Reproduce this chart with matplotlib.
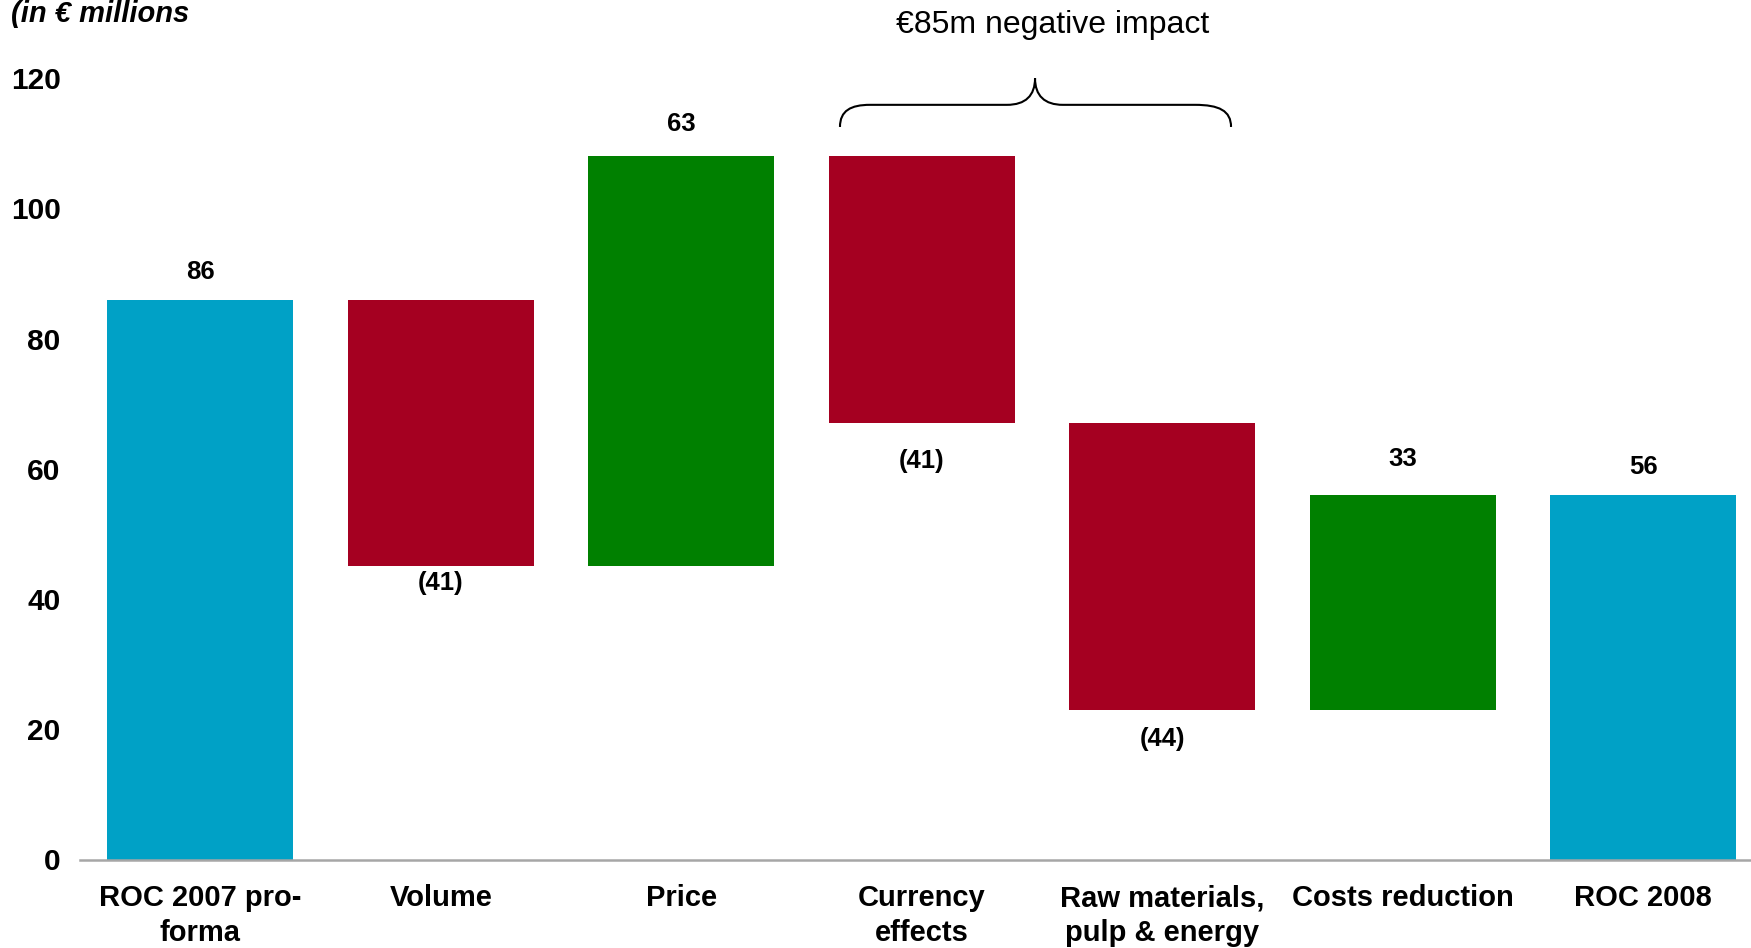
import matplotlib
matplotlib.use("Agg")
import matplotlib.pyplot as plt
from matplotlib.path import Path
import matplotlib.patches as mpatches
import numpy as np

plt.rcParams['font.family'] = ['Liberation Sans', 'DejaVu Sans']

# waterfall data (EUR millions)
categories = ["ROC 2007 pro-\nforma", "Volume", "Price", "Currency\neffects",
              "Raw materials,\npulp & energy", "Costs reduction", "ROC 2008"]
start_value = 86
changes = [-41, 63, -41, -44, 33]
end_value = 56
yticks = [0, 20, 40, 60, 80, 100, 120]

# distance (points) of each value label from its bar end
label_offsets = [20, 12, 23, 27, 21, 26, 20]

col_total = '#00A1C6'
col_neg = '#A50021'
col_pos = '#008000'

fig = plt.figure(figsize=(17.51, 9.48), dpi=100)
ax = fig.add_axes([80/1751, 88.5/948, 1 - 80/1751, 1 - 88.5/948])

# bar bottoms / heights
bottoms, heights, colors, labels = [0], [start_value], [col_total], [str(start_value)]
level = start_value
for c in changes:
    if c < 0:
        bottoms.append(level + c)
        colors.append(col_neg)
        labels.append("(%d)" % -c)
    else:
        bottoms.append(level)
        colors.append(col_pos)
        labels.append(str(c))
    heights.append(abs(c))
    level += c
bottoms.append(0)
heights.append(end_value)
colors.append(col_total)
labels.append(str(end_value))

x = np.arange(len(categories))
ax.bar(x, heights, bottom=bottoms, width=0.775, color=colors, zorder=2)

for i in range(len(x)):
    if i in (0, len(x) - 1) or changes[i - 1] > 0:
        ax.annotate(labels[i], (x[i], bottoms[i] + heights[i]), xytext=(0, label_offsets[i]),
                    textcoords='offset points', ha='center', va='center',
                    fontsize=18.5, fontweight='bold')
    else:
        ax.annotate(labels[i], (x[i], bottoms[i]), xytext=(0, -label_offsets[i]),
                    textcoords='offset points', ha='center', va='center',
                    fontsize=18.5, fontweight='bold')

ax.set_xlim(-0.5, 6.448)
ax.set_ylim(0, 132)
ax.set_yticks(yticks)
ax.set_yticklabels([str(t) for t in yticks], fontsize=21.5, fontweight='bold')
ax.set_xticks(x)
ax.set_xticklabels(categories, fontsize=21, fontweight='bold', linespacing=1.3)
ax.tick_params(axis='y', length=0, pad=14)
ax.tick_params(axis='x', length=0, pad=18)
for s in ['top', 'right', 'left']:
    ax.spines[s].set_visible(False)
ax.spines['bottom'].set_color('#A6A6A6')
ax.spines['bottom'].set_linewidth(1.8)
ax.spines['bottom'].set_zorder(3)

# curly brace over currency and raw material effects
xl, xc, xr = 2.660, 3.471, 4.286
yb, yh, yt = 112.5, 115.9, 120.0
verts = [(xl, yb),
         (xl, 115.0), (xl + 0.045, yh), (xl + 0.125, yh),
         (xc - 0.117, yh),
         (xc - 0.04, yh), (xc, 117.3), (xc, yt),
         (xc, 117.3), (xc + 0.04, yh), (xc + 0.116, yh),
         (xr - 0.150, yh),
         (xr - 0.05, yh), (xr, 115.0), (xr, yb)]
codes = [Path.MOVETO,
         Path.CURVE4, Path.CURVE4, Path.CURVE4,
         Path.LINETO,
         Path.CURVE4, Path.CURVE4, Path.CURVE4,
         Path.CURVE4, Path.CURVE4, Path.CURVE4,
         Path.LINETO,
         Path.CURVE4, Path.CURVE4, Path.CURVE4]
ax.add_patch(mpatches.PathPatch(Path(verts, codes), facecolor='none',
                                edgecolor='black', linewidth=1.5, clip_on=False))
ax.text(3.546, 128.2, "€85m negative impact", ha='center', va='center', fontsize=23)

fig.text(11/1751, 1 - 22/948, "(in € millions", fontsize=21, fontweight='bold',
         fontstyle='italic', ha='left', va='baseline')

fig.savefig("out.png", dpi=100)
